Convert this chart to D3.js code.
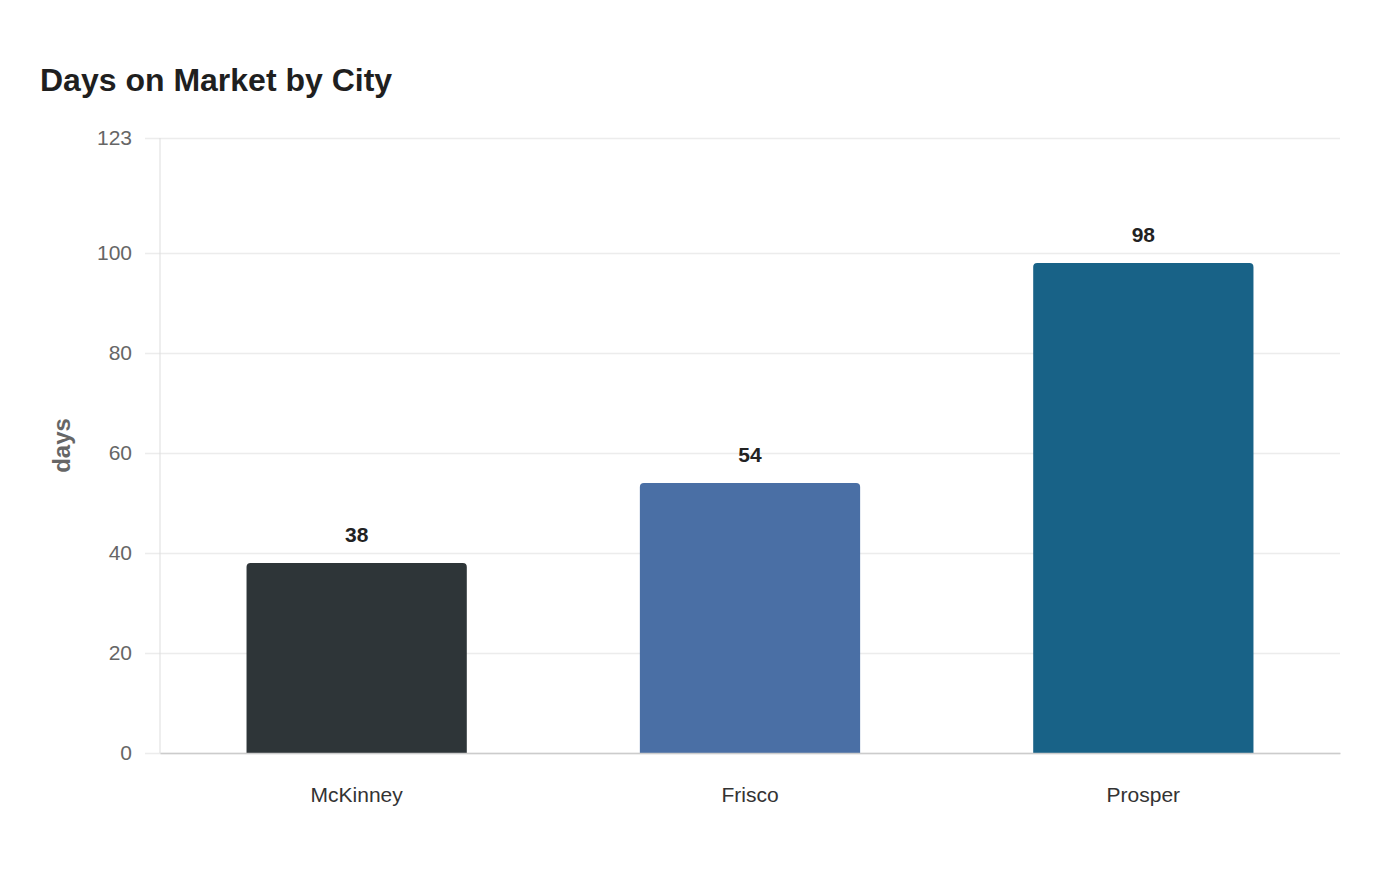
<!DOCTYPE html>
<html>
<head>
<meta charset="utf-8">
<script src="https://cdn.jsdelivr.net/npm/d3@7"></script>
<style>
  html, body { margin: 0; padding: 0; background: #ffffff; }
  body { width: 1400px; height: 880px; font-family: "Liberation Sans", Arial, sans-serif; }
</style>
</head>
<body>
<div id="chart"></div>
<script>
// Days on Market by City — simple bar chart

const cities = ['McKinney', 'Frisco', 'Prosper'];
const daysOnMarket = [38, 54, 98];
const barColors = ['#2e3538', '#4a6fa5', '#186287'];
const yTicks = [0, 20, 40, 60, 80, 100, 123];

const width = 1400, height = 880;
const margin = { top: 138, right: 60, bottom: 127, left: 160 };
const innerW = width - margin.left - margin.right;
const innerH = height - margin.top - margin.bottom;

const svg = d3.select('#chart').append('svg')
    .attr('width', width).attr('height', height);

svg.append('text')
    .attr('x', 40).attr('y', 91)
    .style('font-size', '32px').style('font-weight', '700')
    .style('fill', '#1f1f1f')
    .text('Days on Market by City');

const g = svg.append('g')
    .attr('transform', 'translate(' + margin.left + ',' + margin.top + ')');

const x = d3.scaleBand().domain(cities).range([0, innerW]).paddingInner(0.44).paddingOuter(0.22);
const y = d3.scaleLinear().domain([0, 123]).range([innerH, 0]);

// grid + y axis
const yAxis = g.append('g')
    .call(d3.axisLeft(y).tickValues(yTicks).tickSize(-innerW).tickPadding(28).tickSizeOuter(0));
yAxis.select('.domain').remove();
yAxis.selectAll('.tick line')
    .attr('x1', -15).attr('stroke', '#ececec').attr('stroke-width', 1.3);
yAxis.selectAll('.tick text')
    .style('font-size', '21px').style('fill', '#666')
    .style('font-family', '"Liberation Sans", Arial, sans-serif')
    .attr('x', -28);

g.append('line')
    .attr('x1', 0).attr('x2', 0).attr('y1', 0).attr('y2', innerH)
    .attr('stroke', '#dddddd').attr('stroke-width', 1);

// bars with rounded top corners
const r = 4;
g.selectAll('.bar')
    .data(cities)
    .join('path')
    .attr('class', 'bar')
    .attr('fill', (d, i) => barColors[i])
    .attr('d', (d, i) => {
        const x0 = x(d), w = x.bandwidth();
        const y0 = y(daysOnMarket[i]), y1 = y(0);
        return 'M' + x0 + ',' + y1 +
            'V' + (y0 + r) +
            'Q' + x0 + ',' + y0 + ' ' + (x0 + r) + ',' + y0 +
            'H' + (x0 + w - r) +
            'Q' + (x0 + w) + ',' + y0 + ' ' + (x0 + w) + ',' + (y0 + r) +
            'V' + y1 + 'Z';
    });

// value labels
g.selectAll('.val')
    .data(cities)
    .join('text')
    .attr('class', 'val')
    .attr('x', d => x(d) + x.bandwidth() / 2)
    .attr('y', (d, i) => y(daysOnMarket[i]) - 21)
    .attr('text-anchor', 'middle')
    .style('font-size', '21px').style('font-weight', '700').style('fill', '#222')
    .text((d, i) => daysOnMarket[i]);

// x axis
const xAxis = g.append('g')
    .attr('transform', 'translate(0,' + innerH + ')')
    .call(d3.axisBottom(x).tickSize(0).tickPadding(34));
xAxis.select('.domain').attr('stroke', '#cccccc').attr('stroke-width', 1.5);
xAxis.selectAll('.tick text')
    .style('font-size', '21px').style('fill', '#333')
    .style('font-family', '"Liberation Sans", Arial, sans-serif');

// y axis label
svg.append('text')
    .attr('transform', 'translate(70,' + (margin.top + innerH / 2) + ') rotate(-90)')
    .attr('text-anchor', 'middle')
    .style('font-size', '24px').style('font-weight', '700').style('fill', '#666')
    .text('days');
</script>
</body>
</html>
